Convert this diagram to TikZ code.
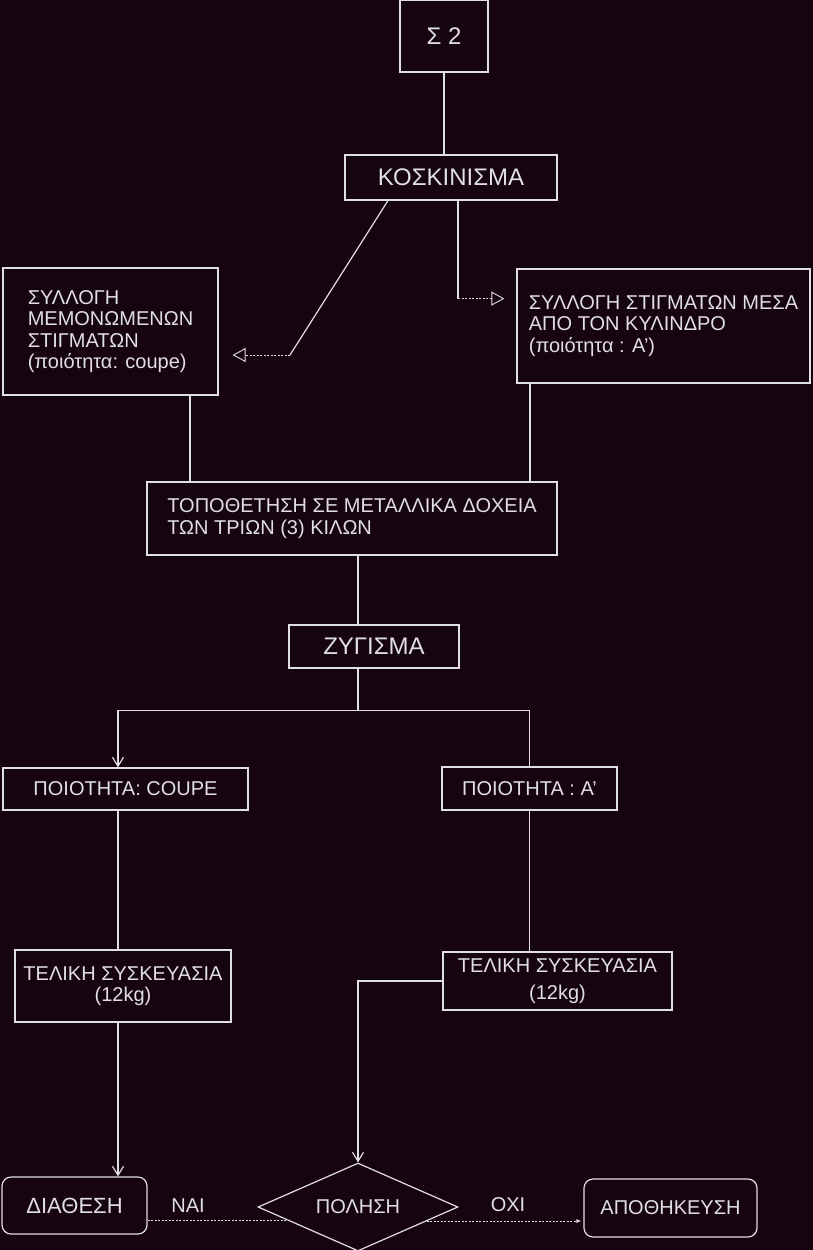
\documentclass[tikz,border=0pt]{standalone}
\usepackage{fontspec}
\setmainfont{Liberation Sans}
\usetikzlibrary{arrows.meta, shapes.geometric}
\definecolor{fg}{RGB}{224,224,224}
\definecolor{bg}{RGB}{22,4,16}

\begin{document}
\begin{tikzpicture}[x=1pt, y=-1pt,
    every node/.style={text=fg, font=\fontsize{20}{21.5}\selectfont},
    box/.style={draw=fg, line width=1.2pt, rectangle, inner sep=0pt},
    rbox/.style={box, rounded corners=9pt},
    big/.style={font=\fontsize{24}{26}\selectfont},
    link/.style={draw=fg, line width=1.2pt},
    dotline/.style={draw=fg, line width=0.9pt, dash pattern=on 2pt off 1.5pt},
    barb/.style={-{Straight Barb[length=9pt, width=11pt]}},
    opentip/.style={-{Triangle[open, length=13pt, width=14pt]}}]
    %tikz flow
    \useasboundingbox (0,0) rectangle (813,1250);
    \fill[bg] (0,0) rectangle (813,1250);
    \node[box, big, minimum width=88, minimum height=72] at (444,36) (s2){ Σ 2 };
    \node[box, big, minimum width=212, minimum height=45] at (451,177.5) (kosk){ ΚΟΣΚΙΝΙΣΜΑ };
    \node[box, align=left, minimum width=215, minimum height=127] at (110.5,331.5) (coll1){ ΣΥΛΛΟΓΗ\\ΜΕΜΟΝΩΜΕΝΩΝ\\ΣΤΙΓΜΑΤΩΝ\\(ποιότητα: coupe) };
    \node[box, align=left, minimum width=293, minimum height=114] at (663.5,326) (coll2){ ΣΥΛΛΟΓΗ ΣΤΙΓΜΑΤΩΝ ΜΕΣΑ\\ΑΠΟ ΤΟΝ ΚΥΛΙΝΔΡΟ\\(ποιότητα : Α') };
    \node[box, align=left, minimum width=410, minimum height=73] at (352,518.5) (topo){ ΤΟΠΟΘΕΤΗΣΗ ΣΕ ΜΕΤΑΛΛΙΚΑ ΔΟΧΕΙΑ\\ΤΩΝ ΤΡΙΩΝ (3) ΚΙΛΩΝ };
    \node[box, big, minimum width=170, minimum height=43] at (374,646.5) (zyg){ ΖΥΓΙΣΜΑ };
    \node[box, minimum width=245, minimum height=42] at (125.5,789) (coupe){ ΠΟΙΟΤΗΤΑ: COUPE };
    \node[box, minimum width=175, minimum height=43] at (529.5,788.5) (qa){ ΠΟΙΟΤΗΤΑ : Α' };
    \node[box, align=center, minimum width=216, minimum height=72] at (123,986) (tel1){ ΤΕΛΙΚΗ ΣΥΣΚΕΥΑΣΙΑ\\(12kg) };
    \node[box, align=center, minimum width=229, minimum height=58] at (557.5,981) (tel2){ ΤΕΛΙΚΗ ΣΥΣΚΕΥΑΣΙΑ\\[6pt](12kg) };
    \node[rbox, font=\fontsize{22}{24}\selectfont, minimum width=145, minimum height=57] at (74.5,1205.5) (diath){ ΔΙΑΘΕΣΗ };
    \node[box, diamond, aspect=2.3, minimum width=200, minimum height=88] at (358,1207) (pol){ ΠΟΛΗΣΗ };
    \node[rbox, minimum width=173, minimum height=58] at (670.5,1208) (apoth){ ΑΠΟΘΗΚΕΥΣΗ };
    \node at (188,1206) (nai){ ΝΑΙ };
    \node at (508,1205) (ochi){ ΟΧΙ };
    \draw[link] (s2.south) -- (s2.south |- kosk.north);
    \draw[link] ([xshift=-63]kosk.south) -- (290,355) coordinate (b1);
    \draw[dotline, opentip] (b1) -- ([xshift=14]coll1.east |- b1);
    \draw[link] ([xshift=7]kosk.south) -- ++(0,98) coordinate (b2);
    \draw[dotline, opentip] (b2) -- ([xshift=-12]coll2.west |- b2);
    \draw[link] ([xshift=79.5]coll1.south) -- ([xshift=79.5]coll1.south |- topo.north);
    \draw[link] ([xshift=-133.5]coll2.south) -- ([xshift=-133.5]coll2.south |- topo.north);
    \draw[link] ([xshift=6]topo.south) -- ([xshift=6]topo.south |- zyg.north);
    \draw[link] ([xshift=-16]zyg.south) -- ++(0,42) coordinate (sp);
    \draw[link, {Straight Barb[length=9pt, width=11pt]}-] ([xshift=-7.5]coupe.north) |- (sp) -| (qa.north);
    \draw[link] ([xshift=-7.5]coupe.south) -- ([xshift=-7.5]coupe.south |- tel1.north);
    \draw[link] (qa.south) -- (qa.south |- tel2.north);
    \draw[link, barb] ([xshift=-5]tel1.south) -- ([xshift=-5]tel1.south |- diath.north);
    \draw[link, barb] (tel2.west) -| (pol.north);
    \draw[dotline] ([yshift=-14.5]diath.east) -- ([xshift=31,yshift=-13]pol.west);
    \draw[dotline, -{Latex[length=5pt, width=4pt]}] ([xshift=-32,yshift=-14]pol.east) -- ([xshift=-2,yshift=-13]apoth.west);
\end{tikzpicture}
\end{document}
